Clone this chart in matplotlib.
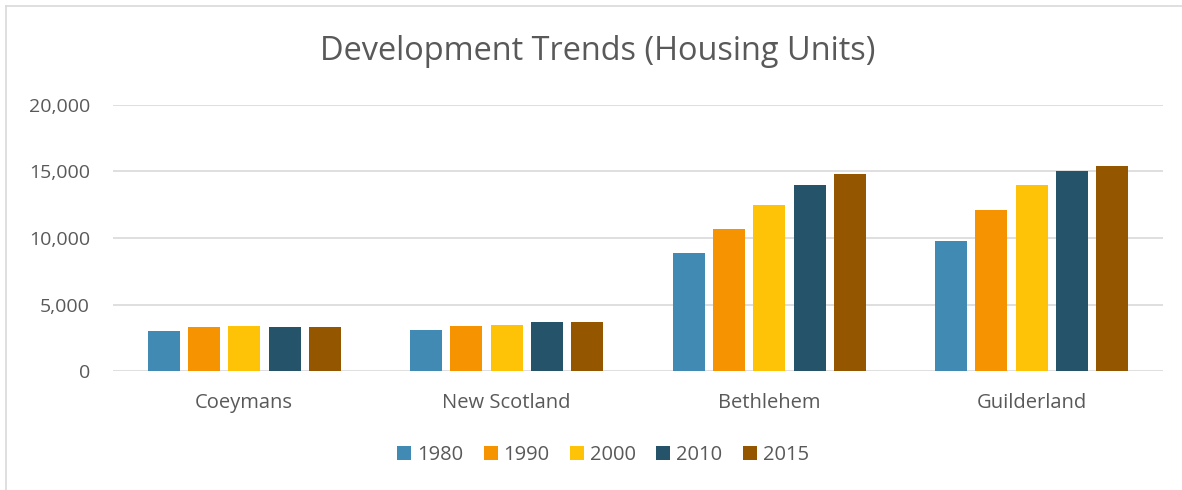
import matplotlib
matplotlib.use("Agg")
import matplotlib.pyplot as plt
import numpy as np
from matplotlib.lines import Line2D

categories = ["Coeymans", "New Scotland", "Bethlehem", "Guilderland"]
years = ["1980", "1990", "2000", "2010", "2015"]
v1980 = [3000, 3060, 8900, 9800]
v1990 = [3290, 3360, 10700, 12100]
v2000 = [3410, 3480, 12450, 13950]
v2010 = [3310, 3670, 14000, 15050]
v2015 = [3330, 3690, 14800, 15400]
series = [v1980, v1990, v2000, v2010, v2015]
colors = ["#418AB3", "#F59300", "#FEC306", "#255369", "#955600"]

plt.rcParams['font.family'] = ['Open Sans', 'DejaVu Sans']
fig = plt.figure(figsize=(11.82, 4.9), dpi=100)
ax = fig.add_axes([113/1182, 1-371/490, 1050/1182, 266/490])

x = np.arange(len(categories))
width = 0.122
step = 0.1537
for i, (vals, c, lab) in enumerate(zip(series, colors, years)):
    ax.bar(x + (i - 2) * step, vals, width=width, color=c, label=lab, zorder=3)

ax.set_xlim(-0.5, len(categories) - 0.5)
ax.set_ylim(0, 20000)
ax.set_yticks([0, 5000, 10000, 15000, 20000])
ax.set_yticklabels(["0", "5,000", "10,000", "15,000", "20,000"])
ax.set_xticks(x)
ax.set_xticklabels(categories)
ax.grid(axis='y', color='#D9D9D9', linewidth=1.2, zorder=0)
for s in ax.spines.values():
    s.set_visible(False)
ax.tick_params(axis='y', length=0, labelsize=14, colors='#595959', pad=16.5)
ax.tick_params(axis='x', length=0, labelsize=14.5, colors='#595959', pad=16)

fig.text(598/1182, 1-52/490, "Development Trends (Housing Units)", ha='center', va='center',
         fontsize=23.4, color='#595959')

leg = fig.legend(loc='center', bbox_to_anchor=(603/1182, 1-455/490), ncol=5, frameon=False,
                 fontsize=14.5, handlelength=0.7, handleheight=0.7, handletextpad=0.3,
                 columnspacing=1.0)
for t in leg.get_texts():
    t.set_color('#595959')

# figure border (top and left visible)
fig.add_artist(Line2D([6/1182, 6/1182], [0, 1-6/490], color='#D9D9D9', lw=1.2, transform=fig.transFigure))
fig.add_artist(Line2D([6/1182, 1], [1-6/490, 1-6/490], color='#D9D9D9', lw=1.2, transform=fig.transFigure))

fig.savefig("out.png", dpi=100)
